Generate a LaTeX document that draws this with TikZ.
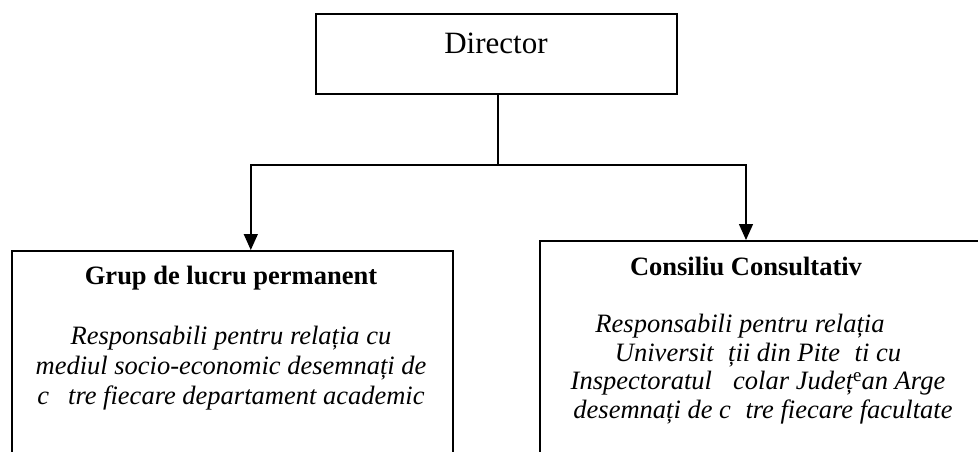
\documentclass[tikz,border=0pt]{standalone}
\usepackage{fontspec}
\setmainfont{Liberation Serif}
\usetikzlibrary{positioning,arrows.meta}
\newcommand{\lipsa}{\hspace{0.55em}}

\begin{document}
\begin{tikzpicture}[
    x=1pt, y=-1pt,
    post/.style={draw, line width=1.6pt, inner sep=0pt},
    titlu/.style={font=\fontsize{26.5}{30}\selectfont\bfseries, anchor=base},
    desc/.style={font=\fontsize{26.5}{30}\selectfont\itshape, align=center, anchor=north, inner sep=0pt},
    leg/.style={line width=1.4pt},
    >={Triangle[width=14pt,length=16pt]}
  ]
  \path[use as bounding box, clip] (0,0) rectangle (978,452);

  % Boxes (the lower two run past the page edge)
  \node[post, minimum width=361pt, minimum height=80pt, anchor=north west] (director) at (315,13) {};
  \node[font=\fontsize{31}{37}\selectfont, anchor=base] (directorT) at (496,54) {Director};

  \node[post, minimum width=441pt, minimum height=260pt, anchor=north west] (grup) at (11,250) {};
  \node[post, minimum width=460pt, minimum height=260pt, anchor=north west] (consiliu) at (539,240) {};

  % Texts
  \node[titlu] (grupT) at (231,284) {Grup de lucru permanent};
  \node[desc] (grupD) at (231,326) {Responsabili pentru relația cu\\
    mediul socio-economic desemnați de\\
    c\lipsa\,tre fiecare departament academic};

  \node[titlu] (consT) at (746,275) {Consiliu Consultativ};
  \node[desc, font=\fontsize{26.5}{28.5}\selectfont\itshape] (consD) at (758,314) {Responsabili pentru relația\hspace*{36pt}\\
    Universit\lipsa ții din Pite\lipsa ti cu\hspace*{14pt}\\
    Inspectoratul \lipsa colar Județ\raisebox{0.3em}{\upshape\fontsize{19}{19}\selectfont e}an Arge\\
    \hspace*{10pt}desemnați de c\lipsa tre fiecare facultate};

  % Connectors
  \coordinate (split) at (498,165);
  \draw[leg] (director.south -| split) -- (split);
  \draw[leg, ->] (split) -| ([xshift=18.5pt]grup.north);
  \draw[leg, ->] (split) -| ([xshift=207pt]consiliu.north west);

\end{tikzpicture}
\end{document}
